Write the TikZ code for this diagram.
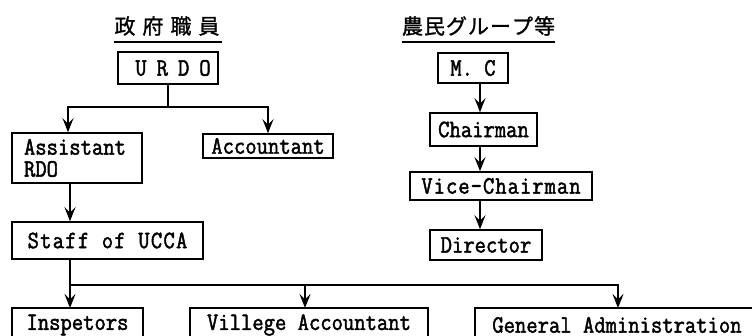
\documentclass[tikz,border=0pt]{standalone}
\usepackage{fontspec}
\usetikzlibrary{arrows.meta}
\newfontfamily\boxfont{Latin Modern Mono}[FakeBold=1.8,FakeStretch=0.88]
\newfontfamily\jpfont{Noto Sans CJK JP}[FakeBold=1.2]
\begin{document}
\begin{tikzpicture}[x=1pt,y=-1pt,
  box/.style={draw,line width=1.6pt,inner sep=0pt,align=center,
    font=\boxfont\fontsize{25}{22}\selectfont},
  lbl/.style={inner sep=0pt,font=\boxfont\fontsize{25}{22}\selectfont},
  frame/.style={line width=1.6pt},
  ln/.style={line width=1.7pt},
  arr/.style={line width=1.7pt,-{Stealth[length=14pt,width=11pt,inset=5.5pt]}},
  ttl/.style={inner sep=0pt,font=\jpfont\fontsize{21}{21}\selectfont},
  uline/.style={line width=2.2pt}]
\useasboundingbox (0,0) rectangle (752,336);
\clip (0,0) rectangle (752,336);
% titles
\node[ttl] (t1) at (167,26) {政\hspace{7pt}府\hspace{7pt}職\hspace{7pt}員};
\node[ttl] (t2) at (478.5,26) {農\hspace{1pt}民\hspace{1pt}グ\hspace{1pt}ル\hspace{1pt}ー\hspace{1pt}プ\hspace{1pt}等};
\coordinate (u1a) at (114,42); \coordinate (u1b) at (222,42);
\coordinate (u2a) at (402,42); \coordinate (u2b) at (555,42);
\draw[uline] (u1a) -- (u1b);
\draw[uline] (u2a) -- (u2b);
% left column
\node[box,minimum width=100pt,minimum height=32pt] (urdo) at (168,68) {\addfontfeature{LetterSpace=40}URDO\hspace{-10pt}};
\node[box,minimum height=50pt,text width=106pt,inner xsep=12pt,align=left] (asst) at (77,158) {Assistant\\RDO};
\node[box,minimum width=130pt,minimum height=24pt] (acct) at (268,146) {Accountant};
\node[box,minimum width=191pt,minimum height=37pt] (staff) at (107.5,240.5) {\addfontfeature{LetterSpace=5}Staff of UCCA};
% bottom row: boxes run past the lower edge
\node[lbl] (insp) at (77.5,325) {Inspetors};
\node[lbl] (vill) at (309,325) {Villege Accountant};
\node[lbl] (gen) at (617,325) {General Administration};
\coordinate (ia) at (12,308);  \coordinate (ib) at (143,308);
\coordinate (va) at (190,308); \coordinate (vb) at (428,308);
\coordinate (ga) at (475,308); \coordinate (gb) at (770,308);
\draw[frame] (ia |- 0,345) -- (ia) -- (ib) -- (ib |- 0,345);
\draw[frame] (va |- 0,345) -- (va) -- (vb) -- (vb |- 0,345);
\draw[frame] (ga |- 0,345) -- (ga) -- (gb);
% right column
\node[box,minimum width=70pt,minimum height=30pt] (mc) at (473,68) {M. C};
\node[box,minimum width=107pt,minimum height=33pt] (chair) at (483.5,129.5) {Chairman};
\node[box,minimum width=182pt,minimum height=28pt] (vice) at (501,186) {\addfontfeature{LetterSpace=4}Vice-Chairman};
\node[box,minimum width=112pt,minimum height=30pt] (dir) at (486,245) {Director};
% connectors left
\coordinate (ja) at (68,107);
\coordinate (jb) at (268,107);
\coordinate (jm) at (168,107);
\draw[ln] (urdo.south) -- (jm);
\draw[arr] (jm) -- (ja) -- (asst.north -| ja);
\draw[arr] (jm) -- (jb) -- (acct.north -| jb);
\coordinate (xa) at (70,0);
\draw[arr] (asst.south -| xa) -- (staff.north -| xa);
\coordinate (jc) at (70,285);
\coordinate (je) at (305,285);
\coordinate (jd) at (618,285);
\draw[arr] (staff.south -| jc) -- (ia -| jc);
\draw[arr] (jc) -- (jd) -- (ga -| jd);
\draw[arr] (je) -- (va -| je);
% connectors right
\coordinate (xr) at (480,0);
\draw[arr] (mc.south -| xr) -- (chair.north -| xr);
\draw[arr] (chair.south -| xr) -- (vice.north -| xr);
\draw[arr] (vice.south -| xr) -- (dir.north -| xr);
\end{tikzpicture}
\end{document}
